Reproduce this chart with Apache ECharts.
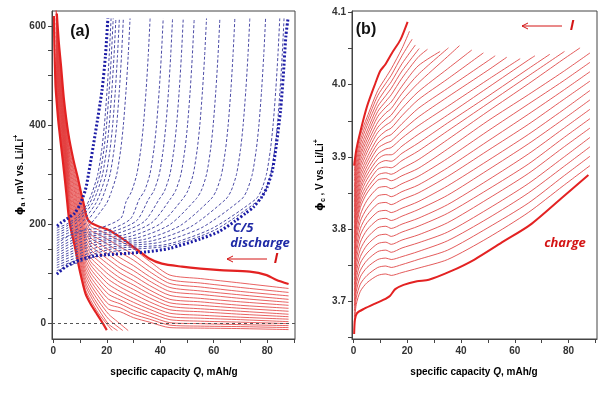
<!DOCTYPE html>
<html><head><meta charset="utf-8">
<script src="https://cdn.jsdelivr.net/npm/echarts@6/dist/echarts.min.js"></script>
<style>html,body{margin:0;padding:0;background:#fff}#c{width:601px;height:394px}</style>
</head><body><div id="c"></div>
<script>
// ---------- tick labels ----------
const xLabelValues = [0, 20, 40, 60, 80];
const xTickValues = [0, 10, 20, 30, 40, 50, 60, 70, 80, 90];
const leftYLabelValues = [0, 200, 400, 600];
const leftYTickValues = [0, 50, 100, 150, 200, 250, 300, 350, 400, 450, 500, 550, 600];
const rightYLabelValues = [3.7, 3.8, 3.9, 4.0, 4.1];
const rightYTickValues = [3.65, 3.7, 3.75, 3.8, 3.85, 3.9, 3.95, 4.0, 4.05, 4.1];

// ---------- panel (a): red curves (anode potential, mV) ----------
const leftRedQ = [1, 2, 4, 6, 8, 10, 12, 14, 17, 20.7, 25, 30, 36, 43.6, 55, 70, 88];
const leftRedThick1 = [[1.3,625],[2,570],[2.9,518],[4,450],[5.6,383],[7.5,330],[9.3,290],[10.5,260],[11.4,240],[12.3,218],[13.2,207],[14.5,201],[17,195],[20.7,188],[25.7,171],[30.7,151],[35.7,131],[40.6,120],[48.1,114],[55,110],[62.3,107],[73.5,104],[79.8,97],[83.5,87],[88,79]];
const leftRedThick2 = [[0.2,620],[0.4,560],[0.8,480],[1.2,450],[2,400],[3.5,330],[5,255],[6,205],[8,155],[10,103],[12,60],[14,38],[16,21],[18,4],[20,-14]];
const leftRedThin = [
  [641,562,443,362,310,264,216,195,188,178,166,150,125,97,90,81,70],
  [632,554,437,354,302,256,208,187,179,168,154,138,114,88,81,72,62],
  [624,546,430,346,295,248,201,179,170,158,143,127,104,80,73,64,55],
  [615,538,423,339,287,240,193,172,161,148,132,116,94,72,65,57,48],
  [606,530,417,331,279,232,185,164,152,138,121,106,85,64,58,50,42],
  [597,521,410,323,271,224,177,156,143,128,111,96,76,56,50,43,36],
  [588,513,403,315,264,216,169,148,134,118,101,86,67,48,43,36,30],
  [580,505,397,307,256,208,162,140,125,108,91,77,59,41,36,30,24],
  [571,497,390,299,248,200,154,132,116,98,82,68,51,34,29,24,18],
  [562,489,383,291,240,192,146,124,107,88,73,59,43,27,23,18,13],
  [553,481,377,284,233,183,138,117,98,78,64,50,35,20,16,12,8],
  [544,473,370,276,225,175,130,109,89,68,55,42,28,13,10,7,3],
  [536,465,363,268,217,167,123,101,80,58,47,34,21,7,4,2,-1],
  [527,457,357,260,209,159,115,93,71,48,39,26,14,1,-1,-3,-5],
  [518,449,350,252,202,151,107,85,62,38,31,18,8,-4,-6,-7,-9],
  [509,440,343,244,194,143,99,77,53,28,23,11,2,-9,-10,-11,-13],
  [500,432,337,236,186,135,91,69,44,18],
  [492,424,330,229,178,127,83,61,35,8],
  [483,416,323,221,170,119,76,54,27,-2],
  [474,408,317,213,163,111,68,46,19]
];
const leftRedThinTails = [[],[],[],[],[],[],[],[],[],[],[],[],[],[],[],[],
  [[24,3],[28,-15]], [[26,-15]], [[24,-15]], [[22,-15]]];

// ---------- panel (a): blue dashed discharge curves ----------
const leftBlueThickLeft = [[1.4,196],[3,203],[5,210],[8,222],[10,240],[12,269],[13.2,302],[15.7,383],[18.2,470],[19.5,540],[20.4,615]];
const leftBlueC5 = [[1.3,99],[5,115],[10,128],[15,135],[20,138],[28,141],[35,144],[43.6,151],[55,170],[62,185],[68,206],[72,222],[75,235],[78,255],[80,275],[82,310],[83.5,363],[85,430],[86,498],[87,580],[87.8,615]];
const leftBlueThin = [
  [[1.3,192],[5,200],[9,215],[12.6,240],[14.6,265],[16.6,300],[18.1,350],[19.1,400],[20.1,470],[20.9,540],[21.6,615]],
  [[1.3,187],[5,196],[9,210],[13.4,240],[15.4,265],[17.4,300],[18.9,350],[19.9,400],[20.9,470],[21.7,540],[22.4,615]],
  [[1.3,182],[5,191],[9,204],[14.4,240],[16.4,265],[18.4,300],[19.9,350],[20.9,400],[21.9,470],[22.7,540],[23.4,615]],
  [[1.3,177],[5,186],[10,200],[15.7,240],[17.7,265],[19.7,300],[21.2,350],[22.2,400],[23.2,470],[24,540],[24.7,615]],
  [[1.3,172],[6,183],[11,196],[17.2,240],[19.2,265],[21.2,300],[22.7,350],[23.7,400],[24.7,470],[25.5,540],[26.2,615]],
  [[1.3,167],[6,177],[12,190],[19.7,240],[21.7,265],[23.7,300],[25.2,350],[26.2,400],[27.2,470],[28,540],[28.7,615]],
  [[1.3,161],[9,185],[18,193],[25.3,212],[27.2,245],[29.2,265],[31.2,300],[32.7,350],[33.7,400],[34.7,470],[35.5,540],[36.2,615]],
  [[1.3,156],[10.3,181],[20.6,188],[28.8,210],[32.1,250],[34.1,267],[36.1,300],[37.6,350],[38.6,400],[39.6,470],[40.4,540],[41.1,615]],
  [[1.3,151],[11.2,177],[22.3,185],[31.2,207],[35.6,250],[37.6,267],[39.6,300],[41.1,350],[42.1,400],[43.1,470],[43.9,540],[44.6,615]],
  [[1.3,146],[12.2,174],[24.3,182],[34,205],[39.6,250],[41.6,267],[43.6,300],[45.1,350],[46.1,400],[47.1,470],[47.9,540],[48.6,615]],
  [[1.3,141],[13.2,170],[26.4,178],[36.9,203],[43.7,250],[45.7,267],[47.7,300],[49.2,350],[50.2,400],[51.2,470],[52,540],[52.7,615]],
  [[1.3,136],[14.3,166],[28.7,175],[40.1,201],[48.3,250],[50.3,267],[52.3,300],[53.8,350],[54.8,400],[55.8,470],[56.6,540],[57.3,615]],
  [[1.3,131],[15.6,163],[31.2,172],[43.6,199],[53.3,250],[55.3,267],[57.3,300],[58.8,350],[59.8,400],[60.8,470],[61.6,540],[62.3,615]],
  [[1.3,127],[17,160],[34,169],[47.5,197],[58.9,250],[60.9,267],[62.9,300],[64.4,350],[65.4,400],[66.4,470],[67.2,540],[67.9,615]],
  [[1.3,122],[18.4,156],[36.8,166],[51.5,195],[64.5,250],[66.5,267],[68.5,300],[70,350],[71,400],[72,470],[72.8,540],[73.5,615]],
  [[1.3,117],[19.9,152],[39.7,163],[55.6,193],[70.4,250],[72.4,267],[74.4,300],[75.9,350],[76.9,400],[77.9,470],[78.7,540],[79.4,615]],
  [[1.3,112],[21.2,149],[42.4,159],[59.3,191],[75.7,250],[77.7,267],[79.7,300],[81.2,350],[82.2,400],[83.2,470],[84,540],[84.7,615]],
  [[1.3,106],[21.6,144],[43.2,156],[60.4,188],[77.3,250],[79.3,267],[81.3,300],[82.8,350],[83.8,400],[84.8,470],[85.6,540],[86.3,615]]
];

// ---------- panel (b): red charge curves (cathode potential, V) ----------
const rightQ = [0.3, 1, 2.5, 5, 9, 12, 14, 18, 24, 35, 50, 65, 78, 88];
const rightThickBottom = [[0.2,3.655],[0.5,3.675],[1.3,3.684],[4,3.690],[8,3.697],[11,3.702],[13.6,3.708],[15.5,3.717],[18.6,3.723],[23.6,3.728],[28,3.730],[36,3.7415],[45,3.758],[55.8,3.783],[65.7,3.806],[78,3.845],[87.4,3.875]];
const rightThickTop = [[0.2,3.888],[1,3.910],[2.5,3.935],[5,3.970],[8.1,4.002],[9.9,4.019],[11.8,4.028],[14.3,4.044],[17.4,4.062],[20.1,4.087]];
const rightThin = [
  [3.672,3.696,3.714,3.726,3.736,3.738,3.736,3.740,3.746,3.758,3.788,3.823,3.860,3.888],
  [3.679,3.705,3.724,3.736,3.747,3.749,3.747,3.751,3.758,3.771,3.802,3.836,3.873,3.901],
  [3.687,3.714,3.734,3.747,3.758,3.760,3.758,3.762,3.769,3.784,3.815,3.850,3.886,3.914],
  [3.694,3.723,3.743,3.757,3.769,3.771,3.768,3.774,3.781,3.796,3.828,3.863,3.899,3.927],
  [3.701,3.731,3.753,3.767,3.780,3.782,3.779,3.785,3.792,3.809,3.842,3.877,3.913,3.940],
  [3.708,3.740,3.762,3.778,3.791,3.793,3.790,3.796,3.804,3.822,3.855,3.890,3.926,3.953],
  [3.715,3.748,3.772,3.788,3.802,3.804,3.801,3.807,3.815,3.834,3.868,3.904,3.939,3.966],
  [3.723,3.757,3.782,3.799,3.813,3.815,3.812,3.818,3.827,3.847,3.882,3.918,3.952,3.979],
  [3.730,3.766,3.792,3.809,3.824,3.826,3.823,3.829,3.838,3.860,3.895,3.931,3.965,3.992],
  [3.737,3.774,3.801,3.819,3.835,3.837,3.834,3.841,3.850,3.873,3.909,3.945,3.979,4.005],
  [3.744,3.783,3.811,3.829,3.846,3.848,3.845,3.852,3.861,3.885,3.922,3.959,3.992,4.018],
  [3.751,3.791,3.820,3.840,3.857,3.859,3.856,3.863,3.873,3.898,3.936,3.973,4.005,4.031],
  [3.759,3.800,3.830,3.850,3.868,3.870,3.867,3.874,3.884,3.911,3.950,3.986,4.018,4.044],
  [3.766,3.806,3.836,3.856,3.875,3.878,3.876,3.884,3.896,3.924,3.963,4.001,4.035],
  [3.773,3.812,3.842,3.862,3.883,3.886,3.885,3.895,3.908,3.936,3.974,4.012],
  [3.781,3.819,3.848,3.869,3.890,3.895,3.894,3.905,3.919,3.947,3.984,4.022],
  [3.788,3.825,3.854,3.875,3.897,3.903,3.903,3.915,3.931,3.958,3.996,4.034],
  [3.795,3.831,3.859,3.881,3.904,3.911,3.913,3.926,3.943,3.970,4.007],
  [3.802,3.837,3.865,3.887,3.912,3.919,3.922,3.936,3.955,3.983,4.020],
  [3.809,3.843,3.871,3.893,3.919,3.928,3.931,3.946,3.967,3.995,4.033],
  [3.816,3.849,3.877,3.899,3.926,3.936,3.940,3.957,3.979,4.008],
  [3.824,3.856,3.883,3.906,3.934,3.944,3.949,3.967,3.990,4.022],
  [3.831,3.862,3.889,3.912,3.941,3.952,3.958,3.978,4.002,4.039],
  [3.838,3.868,3.895,3.918,3.948,3.961,3.967,3.988,4.014],
  [3.845,3.874,3.901,3.924,3.956,3.969,3.976,3.998,4.026],
  [3.852,3.880,3.906,3.930,3.963,3.977,3.986,4.009,4.038],
  [3.859,3.886,3.912,3.936,3.970,3.985,3.995,4.019],
  [3.867,3.893,3.918,3.943,3.977,3.994,4.004,4.029],
  [3.874,3.899,3.924,3.949,3.985,4.002,4.013,4.040],
  [3.881,3.905,3.930,3.955,3.992,4.010,4.022,4.050]
];
const rightThinEnds = [null,null,null,null,null,null,null,null,null,null,null,null,null,
  [84.3,4.051],[78.5,4.046],[73,4.042],[67.5,4.040],[62,4.036],[57,4.038],[52.7,4.040],
  [48.3,4.044],[44,4.048],[39.4,4.054],[35.3,4.051],[32.2,4.046],[27.5,4.049],
  [24.4,4.050],[23,4.055],[21.8,4.063],[20.8,4.074]];

// ---------- build ----------
const RED = '#e32222', RED_THIN = '#e23a3a', RED_R = '#e04848';
const BLUE_THIN = '#4b4ba6', BLUE_THICK = '#1c1ca6';

function fromGrid(qs, vals, tail) {
  const d = [];
  vals.forEach((v, i) => { if (v !== null && v !== undefined) d.push([qs[i], v]); });
  (tail || []).forEach(p => d.push(p));
  return d;
}
function line(idx, data, color, width, type, z) {
  return { type: 'line', xAxisIndex: idx, yAxisIndex: idx, data, showSymbol: false, symbol: 'none',
    silent: true, smooth: 0.25, z: z || 2, clip: true,
    lineStyle: { color, width, type: type || 'solid' } };
}
const series = [];
// left red thin
leftRedThin.forEach((vals, j) => series.push(line(0, fromGrid(leftRedQ, vals, leftRedThinTails[j]), RED_THIN, 0.8, 'solid', 2)));
series.push(line(0, leftRedThick2, RED, 2.2, 'solid', 3));
const thick1 = line(0, leftRedThick1, RED, 2.2, 'solid', 3);
thick1.markLine = { silent: true, symbol: 'none', label: { show: false },
  lineStyle: { type: [3, 3], color: '#555', width: 1 }, data: [{ yAxis: 0 }] };
series.push(thick1);
// left blue
leftBlueThin.forEach(d => series.push(line(0, d, BLUE_THIN, 1, [3, 2], 4)));
series.push(line(0, leftBlueThickLeft, BLUE_THICK, 3, [2, 2], 5));
series.push(line(0, leftBlueC5, BLUE_THICK, 3, [2, 2], 5));
// right red
rightThin.forEach((vals, k) => series.push(line(1, fromGrid(rightQ, vals, rightThinEnds[k] ? [rightThinEnds[k]] : []), RED_R, 0.9, 'solid', 2)));
series.push(line(1, rightThickBottom, RED, 2, 'solid', 3));
series.push(line(1, rightThickTop, RED, 2, 'solid', 3));

const axisTxt = { fontWeight: 'bold', fontSize: 10, color: '#333', fontFamily: 'Liberation Sans, Arial, sans-serif' };
function xAxis(gi, min, max) {
  return { type: 'value', gridIndex: gi, min, max,
    axisLine: { show: true, onZero: false, lineStyle: { color: '#444', width: 1 } },
    axisTick: { show: true, customValues: xTickValues, length: 4, lineStyle: { color: '#444' } },
    axisLabel: Object.assign({ customValues: xLabelValues, margin: 7 }, axisTxt),
    splitLine: { show: false } };
}
function yAxis(gi, min, max, labels, ticks, fmt) {
  return { type: 'value', gridIndex: gi, min, max,
    axisLine: { show: true, onZero: false, lineStyle: { color: '#444', width: 1 } },
    axisTick: { show: true, customValues: ticks, length: 4, lineStyle: { color: '#444' } },
    axisLabel: Object.assign({ customValues: labels, margin: 6, formatter: fmt }, axisTxt),
    splitLine: { show: false } };
}

const redTxt = '#d41515', blueTxt = '#1f2aa6';
const richY = {
  g: { fontSize: 11, fontWeight: 'bold', color: '#333', fontFamily: 'DejaVu Sans' },
  s: { fontSize: 7, fontWeight: 'bold', color: '#333', padding: [6, 0, 0, 0], fontFamily: 'Liberation Sans' },
  t: { fontSize: 10, fontWeight: 'bold', color: '#333', fontFamily: 'Liberation Sans' },
  p: { fontSize: 7, fontWeight: 'bold', color: '#333', padding: [0, 0, 7, 0], fontFamily: 'Liberation Sans' }
};
const richX = {
  t: { fontSize: 10, fontWeight: 'bold', color: '#333', fontFamily: 'Liberation Sans' },
  i: { fontSize: 10, fontWeight: 'bold', fontStyle: 'italic', color: '#333', fontFamily: 'Liberation Sans' }
};
function arrow(x1, x2, y) {
  return [
    { type: 'line', shape: { x1, y1: y, x2, y2: y }, style: { stroke: redTxt, lineWidth: 1 } },
    { type: 'polyline', shape: { points: [[x2 + 6, y - 3], [x2, y], [x2 + 6, y + 3]] }, style: { stroke: redTxt, lineWidth: 1, fill: null } }
  ];
}
const graphic = [
  { type: 'text', x: 80, y: 32, style: { text: '(a)', font: 'bold 16px Liberation Sans', fill: '#111', align: 'center', verticalAlign: 'middle' } },
  { type: 'text', x: 366, y: 30, style: { text: '(b)', font: 'bold 16px Liberation Sans', fill: '#111', align: 'center', verticalAlign: 'middle' } },
  { type: 'text', x: 243, y: 228, style: { text: 'C/5', font: 'italic bold 13px Open Sans', fill: blueTxt, align: 'center', verticalAlign: 'middle' } },
  { type: 'text', x: 260, y: 243, style: { text: 'discharge', font: 'italic bold 13px Open Sans', fill: blueTxt, align: 'center', verticalAlign: 'middle' } },
  { type: 'text', x: 276, y: 259, style: { text: 'I', font: 'italic bold 14px Open Sans', fill: redTxt, align: 'center', verticalAlign: 'middle' } },
  { type: 'text', x: 572, y: 26, style: { text: 'I', font: 'italic bold 14px Open Sans', fill: redTxt, align: 'center', verticalAlign: 'middle' } },
  { type: 'text', x: 565, y: 243, style: { text: 'charge', font: 'italic bold 13px Open Sans', fill: redTxt, align: 'center', verticalAlign: 'middle' } },
  { type: 'text', x: 20, y: 175, rotation: Math.PI / 2, style: { text: '{g|ϕ}{s|a}{t| , mV vs. Li/Li}{p|+}', rich: richY, align: 'center', verticalAlign: 'middle' } },
  { type: 'text', x: 320, y: 175, rotation: Math.PI / 2, style: { text: '{g|ϕ}{s|c}{t| , V vs. Li/Li}{p|+}', rich: richY, align: 'center', verticalAlign: 'middle' } },
  { type: 'text', x: 174, y: 372, style: { text: '{t|specific capacity }{i|Q}{t|, mAh/g}', rich: richX, align: 'center', verticalAlign: 'middle' } },
  { type: 'text', x: 474, y: 372, style: { text: '{t|specific capacity }{i|Q}{t|, mAh/g}', rich: richX, align: 'center', verticalAlign: 'middle' } }
].concat(arrow(267, 227, 259), arrow(562, 522, 26));

const chart = echarts.init(document.getElementById('c'), null, { renderer: 'canvas' });
chart.setOption({
  animation: false,
  backgroundColor: '#fff',
  grid: [
    { left: 52, top: 11, width: 243, height: 328, show: true, borderColor: '#444', borderWidth: 1, backgroundColor: 'transparent' },
    { left: 352, top: 11, width: 245, height: 328, show: true, borderColor: '#444', borderWidth: 1, backgroundColor: 'transparent' }
  ],
  xAxis: [xAxis(0, -0.5, 90.4), xAxis(1, -0.6, 90.6)],
  yAxis: [
    yAxis(0, -32, 630, leftYLabelValues, leftYTickValues, v => String(v)),
    yAxis(1, 3.648, 4.102, rightYLabelValues, rightYTickValues, v => v.toFixed(1))
  ],
  series,
  graphic
});
</script></body></html>
